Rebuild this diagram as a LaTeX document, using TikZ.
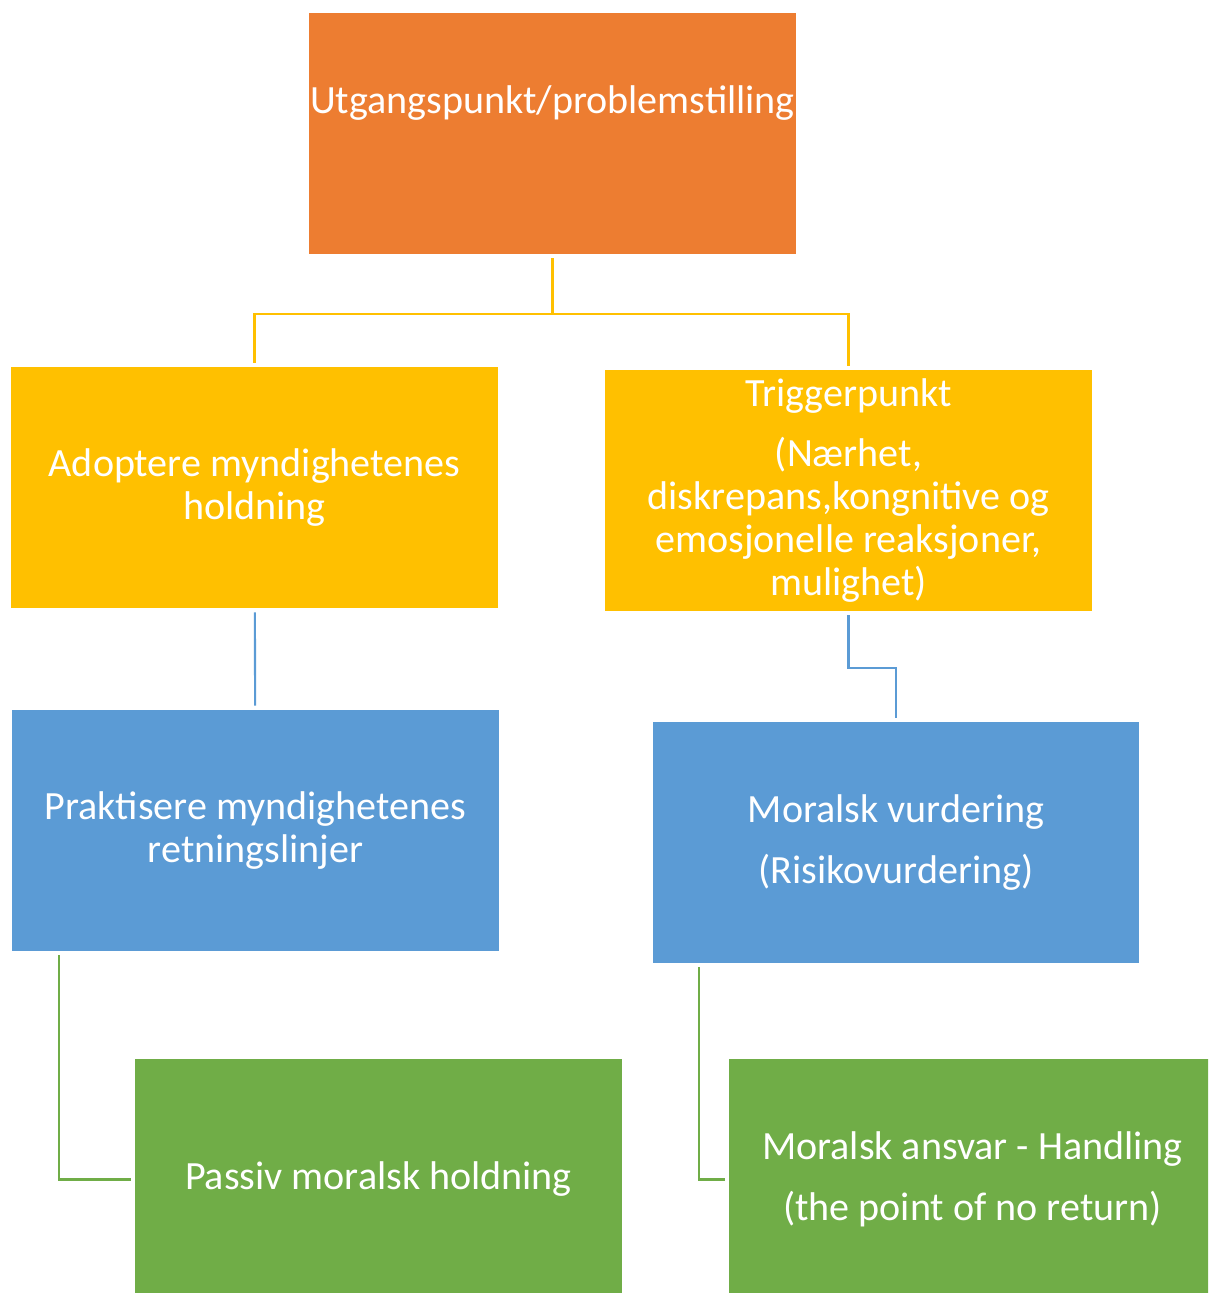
\documentclass[tikz,border=0pt]{standalone}
\usepackage{fontspec}
\setmainfont{Carlito}
\usepackage{tikz}
\usetikzlibrary{positioning}

\definecolor{boxorange}{HTML}{ED7D31}
\definecolor{boxyellow}{HTML}{FFC000}
\definecolor{boxblue}{HTML}{5B9BD5}
\definecolor{boxgreen}{HTML}{70AD47}

\begin{document}
\begin{tikzpicture}[x=0.02cm, y=-0.02cm,
    box/.style={rectangle, minimum width=9.74cm, minimum height=4.82cm,
      inner sep=0pt, align=center, text=white,
      font=\fontsize{22.8}{24.5}\selectfont},
    link/.style={line width=1.2pt, shorten <=2.3pt, shorten >=2.3pt}]
      \useasboundingbox (0,0) rectangle (1208,1293);
      \clip (0,0) rectangle (1208,1293);

      \node[box, fill=boxorange](T)  at (552.5, 133.5)
        {\raisebox{0.40cm}[0pt][0pt]{Utgangspunkt/problemstilling}};

      \node[box, fill=boxyellow](A1) at (254.5, 487.5) {Adoptere myndighetenes\\holdning};
      \node[box, fill=boxyellow](B1) at (848.5, 490.5)
        {Triggerpunkt\\[10pt](Nærhet,\\diskrepans,kongnitive og\\emosjonelle reaksjoner,\\mulighet)};

      \node[box, fill=boxblue](A2)   at (255.5, 830.5) {Praktisere myndighetenes\\retningslinjer};
      \node[box, fill=boxblue](B2)   at (896,   842.5) {Moralsk vurdering\\[10pt](Risikovurdering)};

      \node[box, fill=boxgreen](A3)  at (378.5, 1179.5) {Passiv moralsk holdning};
      \node[box, fill=boxgreen](B3)  at (972.5, 1179.5)
        {Moralsk ansvar - Handling\\[10pt](the point of no return)};

      \coordinate(J1) at (552.5, 314);
      \coordinate(J2) at (872,   668);
      \coordinate(K1) at ([xshift=0.94cm]A2.south west);
      \coordinate(K2) at ([xshift=0.94cm]B2.south west);

      \draw[link, boxyellow] (T) -- (J1) -| (A1);
      \draw[link, boxyellow, shorten <=0pt] (J1) -| (B1);

      \draw[link, boxblue] (A1) -- (A2);
      \draw[link, boxblue] (B1) |- (J2) -| (B2);

      \draw[link, boxgreen] (K1) |- (A3);
      \draw[link, boxgreen] (K2) |- (B3);
    \end{tikzpicture}
\end{document}
